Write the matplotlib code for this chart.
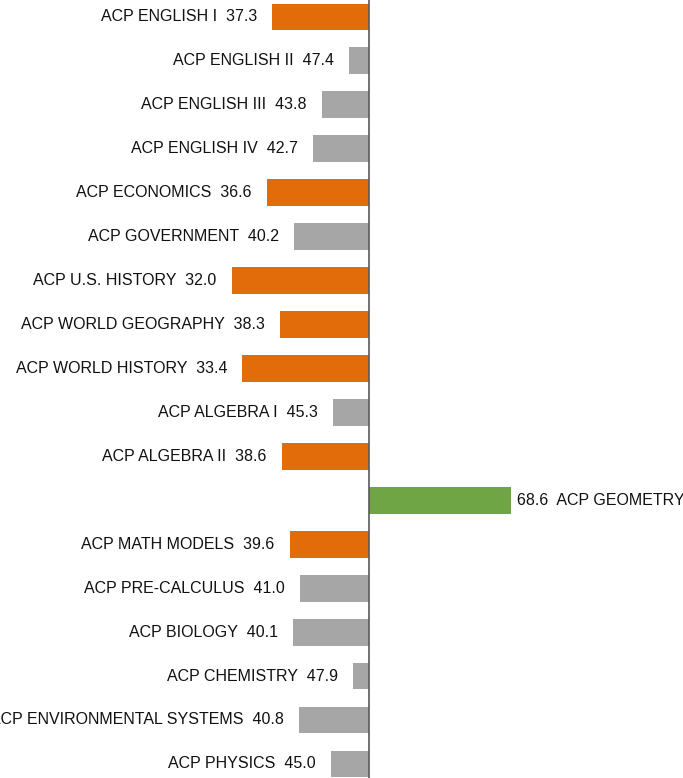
'''
Diverging bar chart of ACP course scores around 50
'''
import matplotlib.pyplot as plt

plt.rcParams['font.family'] = ['Liberation Sans', 'DejaVu Sans']

courses = [
    'ACP ENGLISH I', 'ACP ENGLISH II', 'ACP ENGLISH III', 'ACP ENGLISH IV',
    'ACP ECONOMICS', 'ACP GOVERNMENT', 'ACP U.S. HISTORY',
    'ACP WORLD GEOGRAPHY', 'ACP WORLD HISTORY', 'ACP ALGEBRA I',
    'ACP ALGEBRA II', 'ACP GEOMETRY', 'ACP MATH MODELS', 'ACP PRE-CALCULUS',
    'ACP BIOLOGY', 'ACP CHEMISTRY', 'ACP ENVIRONMENTAL SYSTEMS', 'ACP PHYSICS',
]
scores = [37.3, 47.4, 43.8, 42.7, 36.6, 40.2, 32.0, 38.3, 33.4, 45.3,
          38.6, 68.6, 39.6, 41.0, 40.1, 47.9, 40.8, 45.0]
baseline = 50

ORANGE = '#E36C0A'
GRAY = '#A6A6A6'
GREEN = '#70A545'


def bar_color(v):
    if v > baseline:
        return GREEN
    if v < 40:
        return ORANGE
    return GRAY


fig = plt.figure(figsize=(6.83, 7.78), dpi=100)
ax = fig.add_axes([0, 0, 1, 1])

ypos = list(range(len(courses)))
deltas = [s - baseline for s in scores]
ax.barh(ypos, deltas, height=0.61, color=[bar_color(s) for s in scores])

for y, d, name, s in zip(ypos, deltas, courses, scores):
    if d < 0:
        ax.annotate(f'{name}  {s:.1f}', (d, y), xytext=(-11, 0),
                    textcoords='offset points', ha='right', va='center',
                    fontsize=11.5, color='#111111')
    else:
        ax.annotate(f'{s:.1f}  {name}', (d, y), xytext=(4.5, 0),
                    textcoords='offset points', ha='left', va='center',
                    fontsize=11.5, color='#111111')

ax.axvline(0, color='#595959', linewidth=1.2)
ax.set_xlim(-48.4, 41.2)
ax.set_ylim(17.32, -0.386)
ax.axis('off')

fig.savefig('out.png', dpi=100)
